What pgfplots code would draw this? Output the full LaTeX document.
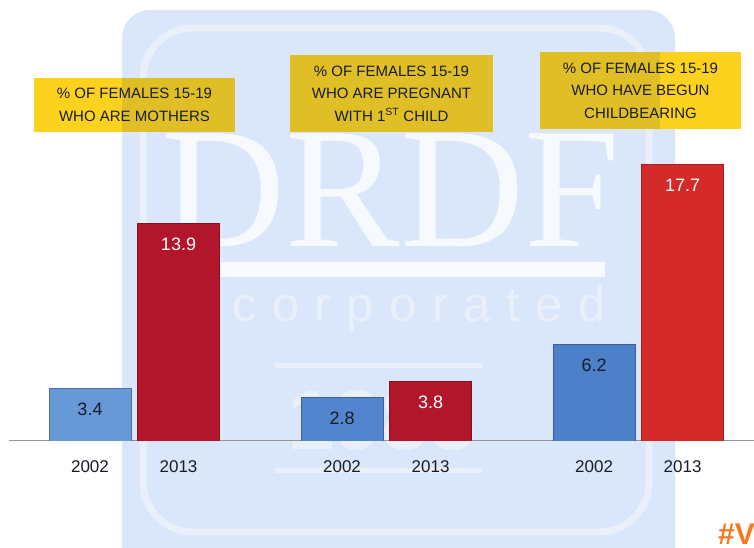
\documentclass[border=0pt]{standalone}
\usepackage{pgfplots}
\pgfplotsset{compat=1.18}
\usepackage{fontspec}
\setmainfont{Liberation Sans}
\newfontfamily\wmserif{Liberation Serif}

\definecolor{boxyellow}{RGB}{252,210,30}
\definecolor{boxdark}{RGB}{224,190,38}
\definecolor{wmblue}{RGB}{218,230,250}
\definecolor{wmletter}{RGB}{246,249,254}
\definecolor{wmfaint}{RGB}{234,240,250}
\definecolor{txtdark}{RGB}{25,28,40}
\definecolor{hashorange}{RGB}{247,120,30}
\definecolor{baseline}{RGB}{150,150,150}
\definecolor{blueA}{RGB}{103,152,215}
\definecolor{blueB}{RGB}{82,133,206}
\definecolor{blueC}{RGB}{76,128,201}
\definecolor{redA}{RGB}{178,22,42}
\definecolor{redB}{RGB}{178,22,42}
\definecolor{redC}{RGB}{212,42,42}

\newcommand{\ls}{\hspace{15.5pt}}

\begin{document}
\begin{tikzpicture}[x=1pt,y=1pt]
\useasboundingbox (0,0) rectangle (754,548);
\fill[white] (0,0) rectangle (754,548);

% watermark (behind)
\fill[wmblue, rounded corners=28pt] (122,-30) rectangle (675,538);
\draw[wmfaint, line width=7pt, rounded corners=50pt] (143,16) rectangle (649,520);
\node[anchor=base, text=wmletter, inner sep=0pt,
  font=\wmserif\fontsize{172}{172}\selectfont] at (391,301) {DRDF};
\fill[wmletter] (150,271) rectangle (605,286);
\node[anchor=base, text=wmfaint, inner sep=0pt,
  font=\fontsize{49}{49}\selectfont] at (383,226)
  {I\ls n\ls c\ls o\ls r\ls p\ls o\ls r\ls a\ls t\ls e\ls d};
\fill[wmfaint] (275,180) rectangle (482,185);
\fill[wmfaint] (275,75) rectangle (482,80);
\node[anchor=base, text=wmfaint, inner sep=0pt,
  font=\bfseries\fontsize{85}{85}\selectfont] at (382,98) {1983};

% bars: 2002 (blue) and 2013 (red) for three indicators
\begin{axis}[
    scale only axis, width=745pt, height=391pt,
    at={(9pt,107pt)}, anchor=south west,
    xmin=-0.497, xmax=2.459, ymin=0, ymax=25,
    ybar, bar width=82pt,
    axis y line=none, ytick=\empty,
    axis x line*=bottom,
    x axis line style={draw=baseline, line width=1pt},
    major tick length=0pt,
    /pgf/number format/assume math mode=true,
    xtick={-0.1756,0.1756,0.8244,1.1756,1.8244,2.1756},
    xticklabels={2002,2013,2002,2013,2002,2013},
    xticklabel style={font=\fontsize{17}{17}\selectfont, text=txtdark, anchor=center, yshift=-25.5pt},
    nodes near coords,
    nodes near coords style={anchor=center, yshift=-21pt, font=\fontsize{18}{18}\selectfont},
    blue2002/.style={bar shift=-44.25pt, every node near coord/.append style={text=txtdark}},
    red2013/.style={bar shift=44.25pt, every node near coord/.append style={text=white}},
  ]
\addplot[blue2002, fill=blueA, draw=blueA!75!black] coordinates {(0,3.4)};
\addplot[blue2002, fill=blueB, draw=blueB!75!black] coordinates {(1,2.8)};
\addplot[blue2002, fill=blueC, draw=blueC!75!black] coordinates {(2,6.2)};
\addplot[red2013, fill=redA, draw=redA!75!black] coordinates {(0,13.9)};
\addplot[red2013, fill=redB, draw=redB!75!black] coordinates {(1,3.8)};
\addplot[red2013, fill=redC, draw=redC!75!black] coordinates {(2,17.7)};
\end{axis}

% title boxes
\fill[boxyellow] (34,416) rectangle (122,470);
\fill[boxdark] (122,416) rectangle (235,470);
\node[minimum width=201pt, minimum height=54pt, inner sep=0pt, align=center,
  font=\fontsize{15}{22.5}\selectfont, text=txtdark] at (134.5,443)
  {\% OF FEMALES 15-19\\WHO ARE MOTHERS};
\fill[boxdark] (290,416) rectangle (493,493);
\node[minimum width=203pt, minimum height=77pt, inner sep=0pt, align=center,
  font=\fontsize{15}{22.5}\selectfont, text=txtdark] at (391.5,454.5)
  {\% OF FEMALES 15-19\\WHO ARE PREGNANT\\WITH 1\textsuperscript{ST} CHILD};
\fill[boxdark] (540,419) rectangle (660,496);
\fill[boxyellow] (660,419) rectangle (741,496);
\node[minimum width=201pt, minimum height=77pt, inner sep=0pt, align=center,
  font=\fontsize{15}{22.5}\selectfont, text=txtdark] at (640.5,457.5)
  {\% OF FEMALES 15-19\\WHO HAVE BEGUN\\CHILDBEARING};

\node[anchor=base west, text=hashorange, inner sep=0pt, font=\bfseries\fontsize{30}{30}\selectfont] at (718,3) {\#V};
\end{tikzpicture}
\end{document}
